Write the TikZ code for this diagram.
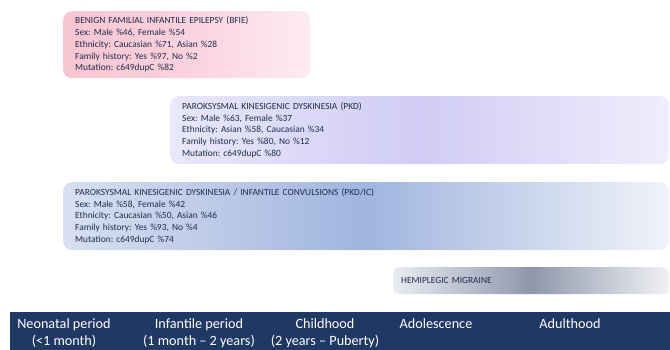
\documentclass[tikz,border=0pt]{standalone}
\usepackage{fontspec}
\setmainfont{Carlito}
\frenchspacing
\definecolor{txt}{HTML}{1F2D4D}
\definecolor{bar}{HTML}{1F3864}
\begin{document}
\begin{tikzpicture}[x=1pt,y=-1pt,
  box/.style={rounded corners=9pt, anchor=north west, inner xsep=12pt, inner ysep=0pt,
    align=left, text=txt, font=\fontsize{9.4}{11.8}\selectfont},
  per/.style={text=white, align=center, font=\fontsize{14.2}{17}\selectfont, inner sep=0pt, anchor=base}]
\useasboundingbox (0,0) rectangle (670,350);
\node[box, left color={rgb,255:red,248;green,196;blue,210}, right color={rgb,255:red,253;green,236;blue,241}, middle color={rgb,255:red,250;green,210;blue,221},
  minimum width=247pt, minimum height=67pt, text width=223pt] (bfie) at (63,11)
  {BENIGN FAMILIAL INFANTILE EPILEPSY (BFIE)\\Sex: Male \%46, Female \%54\\Ethnicity: Caucasian \%71, Asian \%28\\Family history: Yes \%97, No \%2\\Mutation: c649dupC \%82};
\node[box, left color={rgb,255:red,233;green,231;blue,250}, right color={rgb,255:red,239;green,238;blue,251}, middle color={rgb,255:red,208;green,204;blue,245},
  minimum width=499pt, minimum height=68pt, text width=475pt] (pkd) at (170,96)
  {PAROKSYSMAL KINESIGENIC DYSKINESIA (PKD)\\Sex: Male \%63, Female \%37\\Ethnicity: Asian \%58, Caucasian \%34\\Family history: Yes \%80, No \%12\\Mutation: c649dupC \%80};
\node[box, left color={rgb,255:red,216;green,224;blue,241}, right color={rgb,255:red,240;green,243;blue,249}, middle color={rgb,255:red,160;green,181;blue,223},
  minimum width=606pt, minimum height=68pt, text width=582pt] (pkdic) at (63,182)
  {PAROKSYSMAL KINESIGENIC DYSKINESIA / INFANTILE CONVULSIONS (PKD/IC)\\Sex: Male \%58, Female \%42\\Ethnicity: Caucasian \%50, Asian \%46\\Family history: Yes \%93, No \%4\\Mutation: c649dupC \%74};
\node[box, rounded corners=5pt, inner xsep=8pt, left color={rgb,255:red,234;green,236;blue,242}, right color={rgb,255:red,241;green,242;blue,245}, middle color={rgb,255:red,142;green,151;blue,171},
  minimum width=276pt, minimum height=27pt, text width=260pt] (hm) at (393,267)
  {HEMIPLEGIC MIGRAINE};
\node[fill=bar, draw=none, anchor=north west, inner sep=0pt, minimum width=660pt, minimum height=38pt] (axis) at (10,312) {};
\node[per] (neo) at (64,345) {Neonatal period\\(<1 month)};
\node[per] (inf) at (199,345) {Infantile period\\(1 month – 2 years)};
\node[per] (chi) at (325,345) {Childhood\\(2 years – Puberty)};
\node[per] (ado) at (436,328) {Adolescence};
\node[per] (adu) at (570,328) {Adulthood};
\end{tikzpicture}
\end{document}
